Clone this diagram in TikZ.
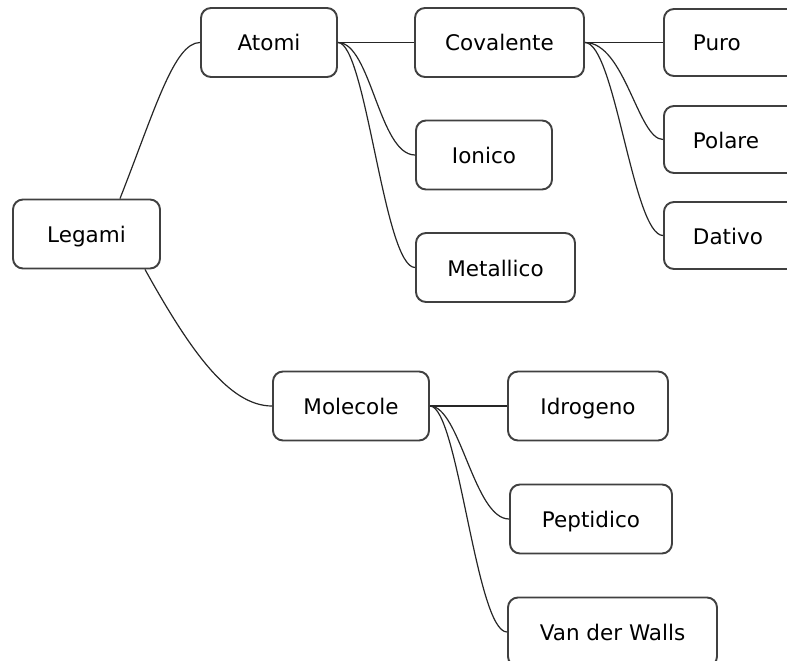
\documentclass[tikz,border=0pt]{standalone}
\usepackage{fontspec}
\setmainfont{DejaVu Sans}
\begin{document}
\begin{tikzpicture}[x=1pt,y=-1pt,
  box/.style={draw=black!75,line width=1.9pt,rounded corners=10pt,fill=white,
    inner sep=0pt,minimum height=69pt,text height=22pt,text depth=5pt,
    font=\fontsize{21.5}{24}\selectfont,text=black},
  cutbox/.style={box,anchor=west,inner xsep=29pt,text width=90pt,align=left,minimum height=67pt},
  link/.style={draw=black!85,line width=1.2pt}]
\useasboundingbox (0,0) rectangle (787,661);
\clip (0,0) rectangle (787,661);
\node[box,minimum width=147pt] (legami) at (86.5,234) {Legami};
\node[box,minimum width=136pt] (atomi) at (269,42.5) {Atomi};
\node[box,minimum width=169pt] (covalente) at (499.5,42.5) {Covalente};
\node[box,minimum width=136pt] (ionico) at (484,155) {Ionico};
\node[box,minimum width=159pt] (metallico) at (495.5,267.5) {Metallico};
\node[cutbox] (puro) at (663,42.5) {Puro};
\node[cutbox] (polare) at (663,139.5) {Polare};
\node[cutbox] (dativo) at (663,235.5) {Dativo};
\node[box,minimum width=156pt] (molecole) at (351,406) {Molecole};
\node[box,minimum width=160pt] (idrogeno) at (588,406) {Idrogeno};
\node[box,minimum width=162pt] (peptidico) at (591,519) {Peptidico};
\node[box,minimum width=209pt] (vdw) at (612.5,632) {Van der Walls};

\draw[link] ([xshift=33.5pt]legami.north) .. controls +(35,-89) and +(-26,0) .. (atomi.west);
\draw[link] ([xshift=58.5pt]legami.south) .. controls +(45,81) and +(-43,0) .. (molecole.west);
\draw[link] (atomi.east) -- (covalente.west);
\draw[link] (atomi.east) .. controls +(33,0) and +(-36,0) .. (ionico.west);
\draw[link] (atomi.east) .. controls +(28,0) and +(-31,0) .. (metallico.west);
\draw[link] (covalente.east) -- (puro.west);
\draw[link] (covalente.east) .. controls +(40,0) and +(-25,0) .. (polare.west);
\draw[link] (covalente.east) .. controls +(30,0) and +(-30,0) .. (dativo.west);
\draw[link] (molecole.east) -- (idrogeno.west);
\draw[link] (molecole.east) .. controls +(30,0) and +(-35,0) .. (peptidico.west);
\draw[link] (molecole.east) .. controls +(28,0) and +(-31,0) .. (vdw.west);
\end{tikzpicture}
\end{document}
